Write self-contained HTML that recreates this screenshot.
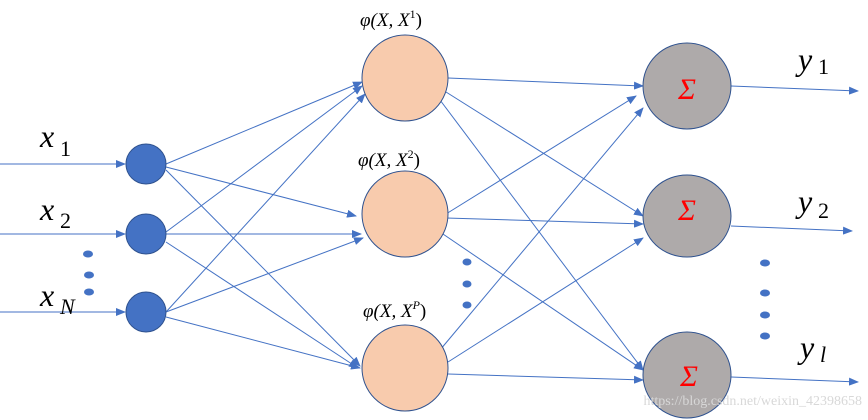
<!DOCTYPE html>
<html><head><meta charset="utf-8"><style>
html,body{margin:0;padding:0;background:#fff;width:868px;height:420px;overflow:hidden}
text{font-family:"Liberation Serif",serif}
</style></head><body>
<svg width="868" height="420" viewBox="0 0 868 420" xmlns="http://www.w3.org/2000/svg">
<defs><marker id="a" markerWidth="10" markerHeight="8" refX="9" refY="4" orient="auto" markerUnits="userSpaceOnUse"><path d="M0,0 L10,4 L0,8 z" fill="#4472C4"/></marker></defs>
<g stroke="#4472C4" stroke-width="1" fill="none" marker-end="url(#a)">
<line x1="0" y1="164" x2="125" y2="164"/>
<line x1="0" y1="234" x2="125" y2="234"/>
<line x1="0" y1="312" x2="125" y2="312"/>
<!-- input to hidden -->
<line x1="166" y1="164" x2="362" y2="82"/>
<line x1="166" y1="167" x2="356" y2="216"/>
<line x1="166" y1="170" x2="360" y2="366"/>
<line x1="166" y1="232" x2="362" y2="86"/>
<line x1="166" y1="234" x2="361" y2="234"/>
<line x1="166" y1="242" x2="358" y2="368"/>
<line x1="166" y1="312" x2="365" y2="94"/>
<line x1="166" y1="312" x2="363" y2="238"/>
<line x1="166" y1="317" x2="360" y2="368"/>
<!-- hidden to output -->
<line x1="448" y1="78" x2="643" y2="86"/>
<line x1="446" y1="92" x2="643" y2="216"/>
<line x1="440" y1="100" x2="643" y2="370"/>
<line x1="446" y1="214" x2="636" y2="96"/>
<line x1="446" y1="218" x2="643" y2="224"/>
<line x1="440" y1="232" x2="643" y2="370"/>
<line x1="440" y1="350" x2="643" y2="108"/>
<line x1="448" y1="362" x2="643" y2="238"/>
<line x1="448" y1="374" x2="643" y2="380"/>
<!-- outputs -->
<line x1="731" y1="86" x2="858" y2="91"/>
<line x1="731" y1="226" x2="852" y2="231"/>
<line x1="731" y1="377" x2="858" y2="382"/>
</g>
<g fill="#4472C4" stroke="#2F528F" stroke-width="1">
<circle cx="146" cy="164" r="20"/><circle cx="146" cy="234" r="20"/><circle cx="146" cy="312" r="20"/>
</g>
<g fill="#F8CBAD" stroke="#2F528F" stroke-width="1">
<circle cx="405" cy="78" r="43"/><circle cx="405" cy="214" r="43"/><circle cx="405" cy="368" r="43"/>
</g>
<g fill="#AEAAAA" stroke="#2F528F" stroke-width="1">
<ellipse cx="687" cy="86" rx="44" ry="43"/><ellipse cx="687" cy="216" rx="44" ry="41"/><ellipse cx="687" cy="375" rx="44" ry="43"/>
</g>
<g fill="#4472C4">
<ellipse cx="88" cy="254" rx="5" ry="3.5"/><ellipse cx="89" cy="275" rx="5" ry="3.5"/><ellipse cx="89" cy="292" rx="5" ry="3.5"/>
<ellipse cx="467" cy="262" rx="4.5" ry="3.5"/><ellipse cx="467" cy="284" rx="4.5" ry="3.5"/><ellipse cx="467" cy="305" rx="4.5" ry="3.5"/>
<ellipse cx="765" cy="263" rx="5" ry="3.5"/><ellipse cx="765" cy="293" rx="5" ry="3.5"/><ellipse cx="765" cy="315" rx="5" ry="3.5"/><ellipse cx="765" cy="336" rx="5" ry="3.5"/>
</g>
<g fill="#000" font-style="italic">
<text x="40" y="147" font-size="32">x</text><text x="60" y="156" font-size="22" font-style="normal">1</text>
<text x="40" y="220" font-size="32">x</text><text x="60" y="228" font-size="22" font-style="normal">2</text>
<text x="40" y="306" font-size="32">x</text><text x="60" y="314" font-size="22">N</text>
<text x="798" y="70" font-size="32">y</text><text x="818" y="74" font-size="22" font-style="normal">1</text>
<text x="798" y="212" font-size="32">y</text><text x="818" y="218" font-size="22" font-style="normal">2</text>
<text x="800" y="358" font-size="32">y</text><text x="820" y="362" font-size="22">l</text>
<text x="360" y="26" font-size="19">φ(X, X<tspan font-size="12" dy="-8" font-style="normal">1</tspan><tspan dy="8" font-style="normal">)</tspan></text>
<text x="358" y="166" font-size="19">φ(X, X<tspan font-size="12" dy="-8" font-style="normal">2</tspan><tspan dy="8" font-style="normal">)</tspan></text>
<text x="363" y="317" font-size="19">φ(X, X<tspan font-size="12" dy="-8">P</tspan><tspan dy="8" font-style="normal">)</tspan></text>
</g>
<g fill="#FF0000" font-style="italic" font-size="30" text-anchor="middle">
<text x="687" y="99">Σ</text><text x="687" y="220">Σ</text><text x="689" y="386">Σ</text>
</g>
<text x="862" y="405" text-anchor="end" font-family="Liberation Sans,sans-serif" font-size="14" fill="#d8d8d8">https://blog.csdn.net/weixin_42398658</text>
</svg>
</body></html>
